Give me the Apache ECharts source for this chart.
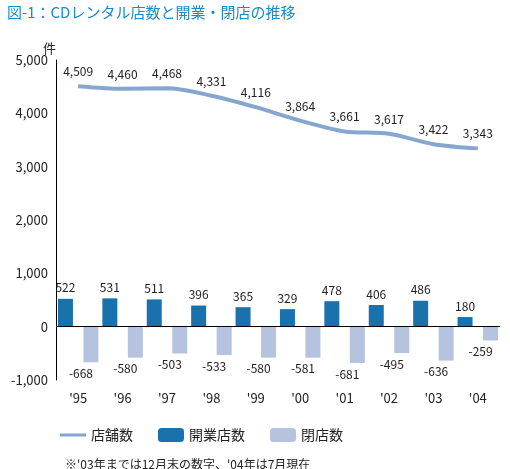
<!DOCTYPE html>
<html><head><meta charset="utf-8">
<script src="https://cdn.jsdelivr.net/npm/echarts@6/dist/echarts.min.js"></script>
<style>body{margin:0}#c{width:510px;height:469px}</style></head>
<body><div id="c"></div>
<script>
const categories=["'95","'96","'97","'98","'99","'00","'01","'02","'03","'04"];
const stores=[4509,4460,4468,4331,4116,3864,3661,3617,3422,3343];
const opened=[522,531,511,396,365,329,478,406,486,180];
const closed=[-668,-580,-503,-533,-580,-581,-681,-495,-636,-259];
const F='"Noto Sans CJK JP", sans-serif';
const c=echarts.init(document.getElementById('c'));
c.setOption({
 animation:false,
 textStyle:{fontFamily:F},
 title:[{text:'図-1：CDレンタル店数と開業・閉店の推移',left:2,top:0,textStyle:{color:'#1a8cc8',fontSize:15,fontWeight:'normal',fontFamily:F}},
  {text:'件',left:38,top:37,textStyle:{fontSize:13,fontWeight:'normal',color:'#222',fontFamily:F}},
  {text:"※'03年までは12月末の数字、'04年は7月現在",left:60,top:453,textStyle:{fontSize:12,fontWeight:'normal',color:'#222',fontFamily:F}}],
 legend:{left:55,top:423,itemGap:25,textStyle:{fontSize:14,color:'#222'},itemWidth:26,itemHeight:14,
  data:[{name:'店舗数',icon:'path://M0,6H26V9H0Z'},'開業店数','閉店数']},
 grid:{left:56,right:10,top:60,bottom:89},
 xAxis:{type:'category',data:categories,axisLine:{show:false,onZero:false},axisTick:{show:false},
  axisLabel:{fontSize:13,color:'#222',margin:12}},
 yAxis:{type:'value',min:-1000,max:5000,interval:1000,axisLine:{show:true,lineStyle:{color:'#000'}},axisTick:{show:false},
  splitLine:{show:false},axisLabel:{fontSize:13,color:'#222',formatter:v=>v.toLocaleString('en-US')}},
 series:[
  {name:'開業店数',type:'bar',data:opened,barWidth:15,barGap:'70%',itemStyle:{color:'#1a72ad'},
   label:{show:true,position:'top',fontSize:12,color:'#222'},
   markLine:{silent:true,symbol:'none',label:{show:false},lineStyle:{color:'#000',type:'solid',width:1},data:[{yAxis:0}]}},
  {name:'閉店数',type:'bar',data:closed,barWidth:15,itemStyle:{color:'#b5c3df'},
   label:{show:true,position:'bottom',fontSize:12,color:'#222',offset:[-10,0]}},
  {name:'店舗数',type:'line',data:stores,smooth:0.3,showSymbol:true,symbol:'circle',symbolSize:1,lineStyle:{width:4,color:'#86a6cf'},itemStyle:{color:'#86a6cf'},
   label:{show:true,position:'top',distance:8,fontSize:12,color:'#222',formatter:p=>p.value.toLocaleString('en-US')}}
 ]
});
</script></body></html>
